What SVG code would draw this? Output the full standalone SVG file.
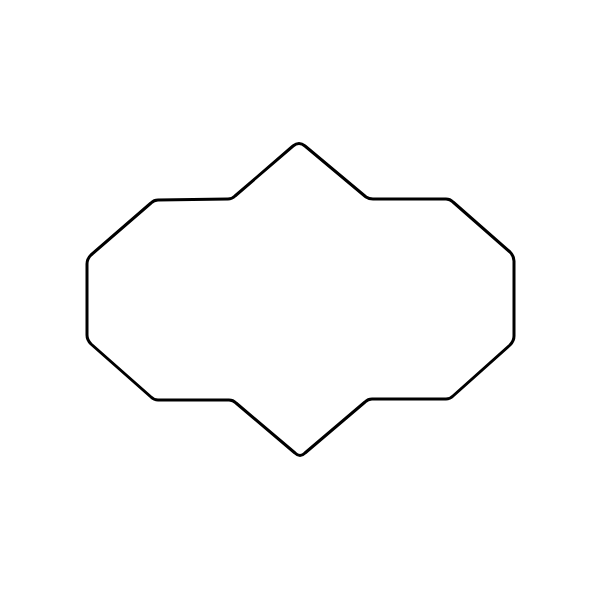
<svg xmlns="http://www.w3.org/2000/svg" width="600" height="600" viewBox="0 0 600 600">
<style>.o{fill:#fff;stroke:#000;stroke-width:3;stroke-linejoin:round}</style>
<rect width="600" height="600" fill="#fff"/>
<g id="shape">
<path class="o" d="M293,146 Q299,141 305,146 L366,197 Q369,199 373,199 L446,199 Q450,199 453,202 L510,252 Q514,256 514,261 L514,336 Q514,341 510,345 L453,396 Q450,399 446,399 L372,399 Q368,399 365,402 L305,453 Q300,458 295,453 L236,403 Q233,400 229,400 L158,400 Q154,400 151,397 L91,344 Q87,340 87,335 L87,264 Q87,259 91,255 L151,203 Q154,200 158,200 L228,199 Q232,199 235,196 Z"/>
</g>
</svg>
